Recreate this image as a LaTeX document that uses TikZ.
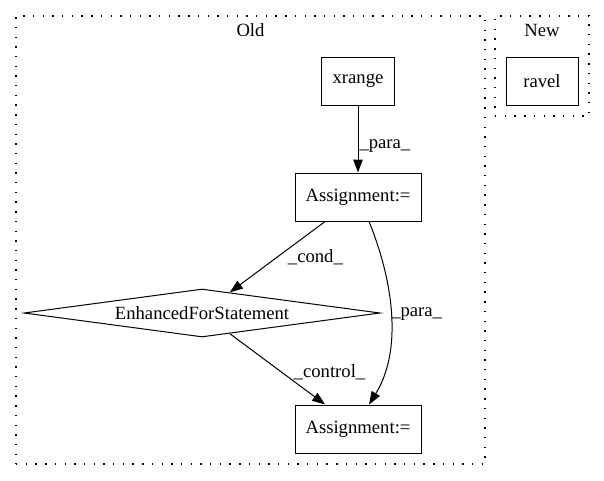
\documentclass[tikz,border=0pt]{standalone}
\usepackage{fontspec}
\setmainfont{Liberation Serif}
\usepackage{tikz}
\usetikzlibrary{arrows.meta}
\usetikzlibrary{shapes,calc,positioning}

\begin{document}
\begin{tikzpicture}[x=1pt, y=-1pt,
  font=\fontsize{18.67}{22}\selectfont,
  line width=1pt, >={Triangle[length=13pt,width=9.5pt]}]
    \tikzstyle{box}=[rectangle, draw, minimum height=48pt, inner sep=0pt]
    \tikzstyle{cluster}=[rectangle, draw, line width=1.2pt, dash pattern=on 1.4pt off 8.3pt, inner sep=0pt]
    \tikzstyle{lbl}=[inner sep=1pt]

    \useasboundingbox (0,0) rectangle (604,480);

    % clusters
    \node[cluster, minimum width=469pt, minimum height=448pt] (old) at (250.5,240) {};
    \node[lbl, below=7pt] at (old.north) {Old};
    \node[cluster, minimum width=94pt, minimum height=100pt] (new) at (542,66) {};
    \node[lbl, below=7pt] at (new.north) {New};

    % nodes
    \node[box, minimum width=73pt]  (xrange) at (358,81)  {xrange};
    \node[box, minimum width=126pt] (a1)     at (358,197) {Assignment:=};
    \node[diamond, draw, aspect=6.5, inner sep=0pt,
          minimum width=356pt, minimum height=48pt] (efs) at (202,313) {EnhancedForStatement};
    \node[box, minimum width=126pt] (a2)     at (358,429) {Assignment:=};
    \node[box, minimum width=72pt]  (ravel)  at (542,81)  {ravel};

    % edges
    \draw[->] (xrange) -- (a1) node[lbl, pos=0.6, right] {\_para\_};
    \draw[->] (a1) -- (efs) node[lbl, midway, right=9pt] {\_cond\_};
    \draw[->] (efs) -- (a2) node[lbl, pos=0.55, right=10pt] {\_control\_};
    \draw[->] ([xshift=11pt]a1.south) .. controls +(24,59) and +(34,-55) .. ([xshift=11pt]a2.north)
      node[lbl, midway, right, inner sep=0pt] {\_para\_};

\end{tikzpicture}
\end{document}
